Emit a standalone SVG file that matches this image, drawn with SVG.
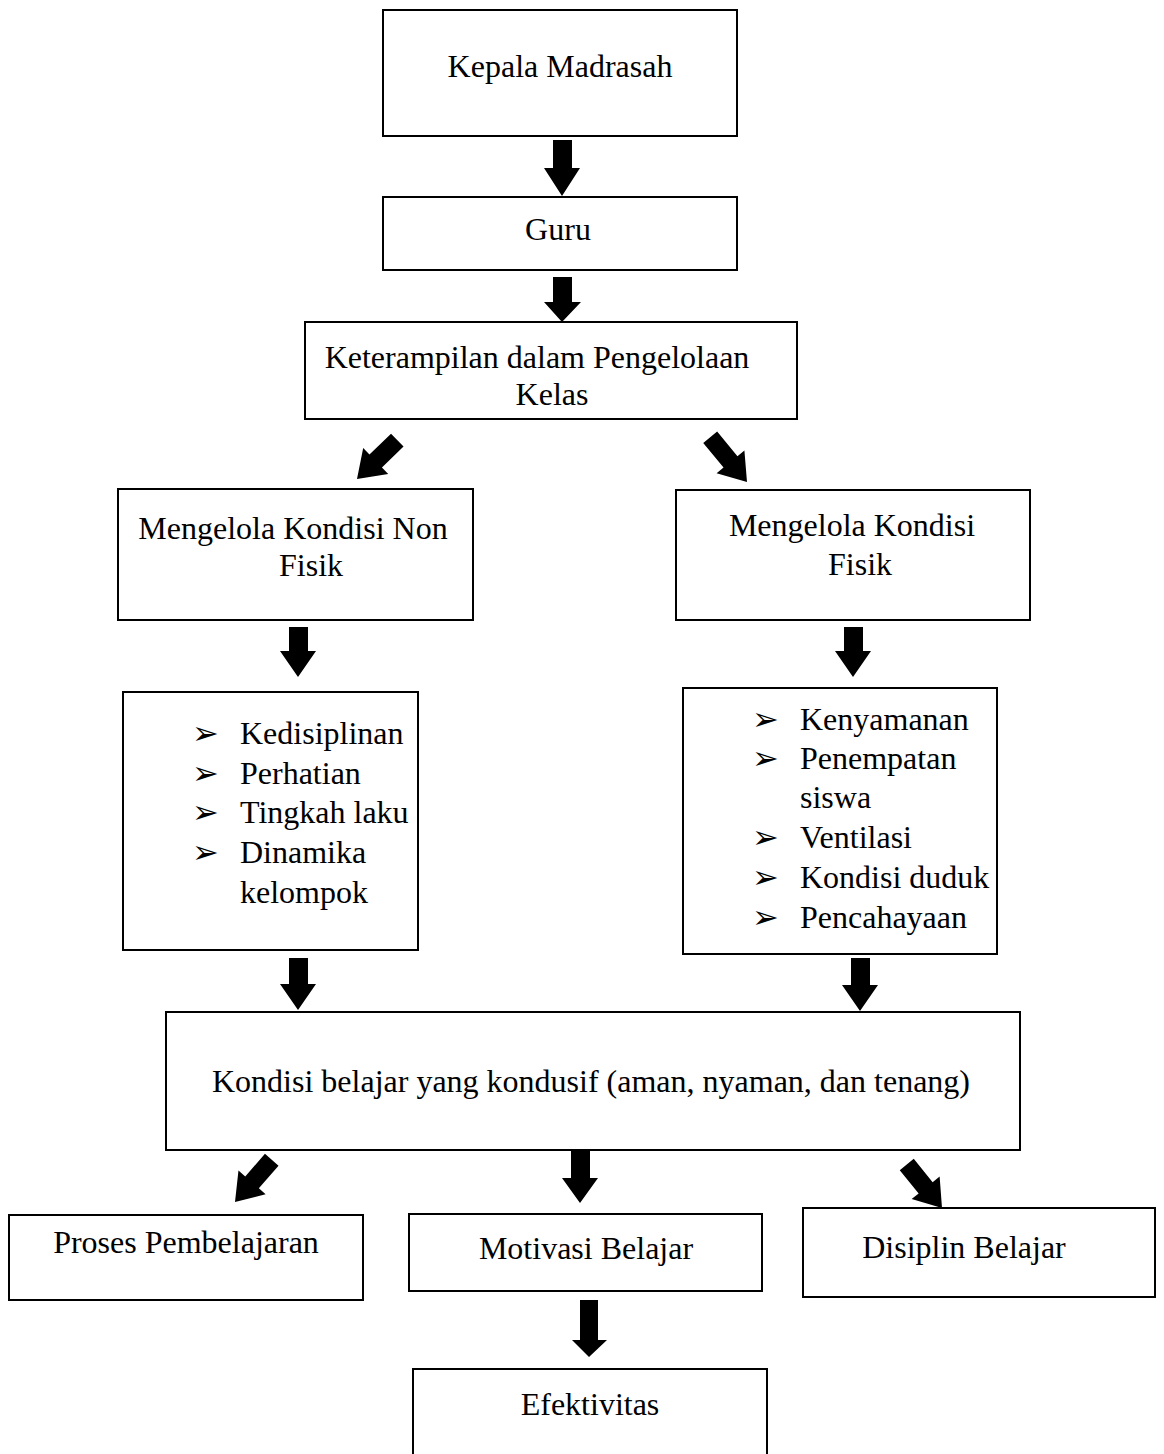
<svg xmlns="http://www.w3.org/2000/svg" width="1164" height="1454" viewBox="0 0 1164 1454">
<style>
.box{fill:#fff;stroke:#000;stroke-width:2}
.t{font-family:"Liberation Serif","Times New Roman",serif;font-size:32px;fill:#000}
.m{text-anchor:middle}
.b{font-family:"DejaVu Sans",sans-serif;font-size:32px;fill:#000}
.arr{fill:#000}
</style>
<rect width="1164" height="1454" fill="#fff"/>
<g id="connectors">
<polygon class="arr" points="553,140 572,140 572,168 580,168 562,196 544,168 553,168"/>
<polygon class="arr" points="553,277 572,277 572,302 581,302 562,322 544,302 553,302"/>
<polygon class="arr" transform="translate(357,479) rotate(136)" points="-56,-9 -26,-9 -26,-18 0,0 -26,18 -26,9 -56,9"/>
<polygon class="arr" transform="translate(747,482) rotate(50.6)" points="-58,-9 -26,-9 -26,-18 0,0 -26,18 -26,9 -58,9"/>
<polygon class="arr" points="289,627 308,627 308,651 316,651 298,677 280,651 289,651"/>
<polygon class="arr" points="844,627 863,627 863,651 871,651 853,677 835,651 844,651"/>
<polygon class="arr" points="289,958 308,958 308,984 316,984 298,1010 280,984 289,984"/>
<polygon class="arr" points="851,958 870,958 870,985 878,985 860,1011 842,985 851,985"/>
<polygon class="arr" transform="translate(235,1202) rotate(131)" points="-56,-9 -26,-9 -26,-18 0,0 -26,18 -26,9 -56,9"/>
<polygon class="arr" points="571,1151 590,1151 590,1178 598,1178 580,1203 562,1178 571,1178"/>
<polygon class="arr" transform="translate(942,1208) rotate(51)" points="-56,-9 -26,-9 -26,-18 0,0 -26,18 -26,9 -56,9"/>
<polygon class="arr" points="580,1300 598,1300 598,1340 607,1340 589,1357 572,1340 580,1340"/>
</g>
<g id="kepala">
<rect class="box" x="383" y="10" width="354" height="126"/>
<text class="t m" x="560" y="77">Kepala Madrasah</text>
</g>
<g id="guru">
<rect class="box" x="383" y="197" width="354" height="73"/>
<text class="t m" x="558" y="240">Guru</text>
</g>
<g id="keterampilan">
<rect class="box" x="305" y="322" width="492" height="97"/>
<text class="t m" x="537" y="368">Keterampilan dalam Pengelolaan</text>
<text class="t m" x="552" y="405">Kelas</text>
</g>
<g id="nonfisik">
<rect class="box" x="118" y="489" width="355" height="131"/>
<text class="t m" x="293" y="539">Mengelola Kondisi Non</text>
<text class="t m" x="311" y="576">Fisik</text>
</g>
<g id="fisik">
<rect class="box" x="676" y="490" width="354" height="130"/>
<text class="t m" x="852" y="536">Mengelola Kondisi</text>
<text class="t m" x="860" y="575">Fisik</text>
</g>
<g id="list-nonfisik">
<rect class="box" x="123" y="692" width="295" height="258"/>
<text class="b" x="192" y="744">➢</text>
<text class="b" x="192" y="784">➢</text>
<text class="b" x="192" y="823">➢</text>
<text class="b" x="192" y="863">➢</text>
<text class="t" x="240" y="744">Kedisiplinan</text>
<text class="t" x="240" y="784">Perhatian</text>
<text class="t" x="240" y="823">Tingkah laku</text>
<text class="t" x="240" y="863">Dinamika</text>
<text class="t" x="240" y="903">kelompok</text>
</g>
<g id="list-fisik">
<rect class="box" x="683" y="688" width="314" height="266"/>
<text class="b" x="752" y="730">➢</text>
<text class="b" x="752" y="769">➢</text>
<text class="b" x="752" y="848">➢</text>
<text class="b" x="752" y="888">➢</text>
<text class="b" x="752" y="928">➢</text>
<text class="t" x="800" y="730">Kenyamanan</text>
<text class="t" x="800" y="769">Penempatan</text>
<text class="t" x="800" y="808">siswa</text>
<text class="t" x="800" y="848">Ventilasi</text>
<text class="t" x="800" y="888">Kondisi duduk</text>
<text class="t" x="800" y="928">Pencahayaan</text>
</g>
<g id="kondisi">
<rect class="box" x="166" y="1012" width="854" height="138"/>
<text class="t m" x="591" y="1092">Kondisi belajar yang kondusif (aman, nyaman, dan tenang)</text>
</g>
<g id="proses">
<rect class="box" x="9" y="1215" width="354" height="85"/>
<text class="t m" x="186" y="1253">Proses Pembelajaran</text>
</g>
<g id="motivasi">
<rect class="box" x="409" y="1214" width="353" height="77"/>
<text class="t m" x="586" y="1259">Motivasi Belajar</text>
</g>
<g id="disiplin">
<rect class="box" x="803" y="1208" width="352" height="89"/>
<text class="t m" x="964" y="1258">Disiplin Belajar</text>
</g>
<g id="efektivitas">
<rect class="box" x="413" y="1369" width="354" height="100"/>
<text class="t m" x="590" y="1415">Efektivitas</text>
</g>
</svg>
